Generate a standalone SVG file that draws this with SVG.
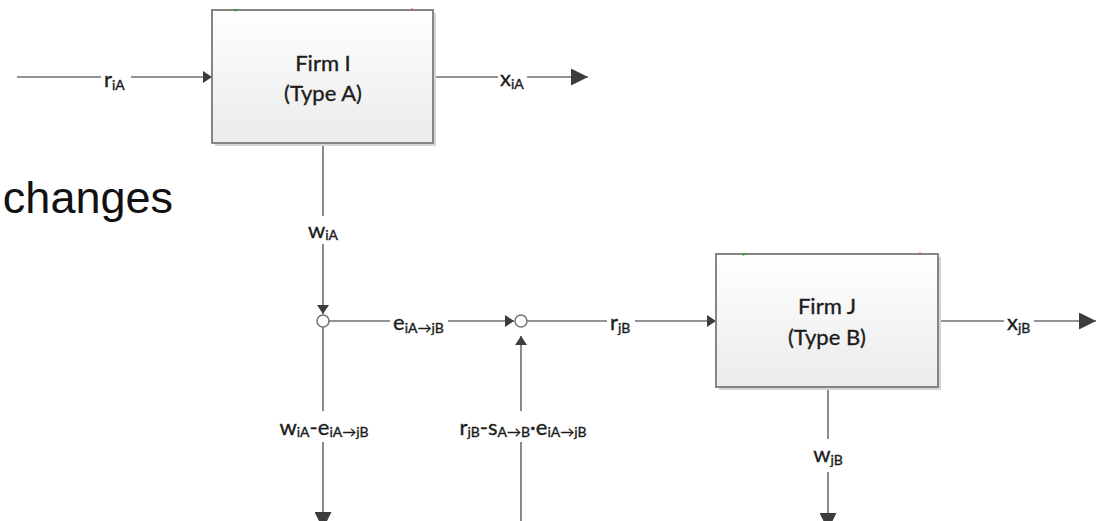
<svg xmlns="http://www.w3.org/2000/svg" width="1097" height="521" viewBox="0 0 1097 521">
  <style>
    .box { fill: url(#boxGrad); stroke: #858585; stroke-width: 2; }
    .shadow { fill: #d6d6d6; }
    .ln { fill: none; stroke: #6f6f6f; stroke-width: 1.6; }
    .jn { fill: #ffffff; stroke: #737373; stroke-width: 1.5; }
    .bg { fill: #ffffff; }
    .t { font-family: Lato, "Liberation Sans", sans-serif; fill: #1c1c1c; stroke: #1c1c1c; stroke-width: 0.35; }
    .name { font-size: 22px; text-anchor: middle; }
    .v { font-size: 22px; }
    .s { font-size: 14px; }
    .big { font-family: "Liberation Sans", Arial, sans-serif; font-size: 45px; fill: #111111; }
  </style>
  <defs>
    <linearGradient id="boxGrad" x1="0" y1="0" x2="0" y2="1">
      <stop offset="0" stop-color="#ffffff"/>
      <stop offset="1" stop-color="#ebebeb"/>
    </linearGradient>
    <marker id="aS" markerUnits="userSpaceOnUse" markerWidth="9" markerHeight="12" refX="9" refY="6" orient="auto">
      <path d="M0,0 L9,6 L0,12 z" fill="#3d3d3d"/>
    </marker>
    <marker id="aL" markerUnits="userSpaceOnUse" markerWidth="17" markerHeight="17" refX="17" refY="8.5" orient="auto">
      <path d="M0,0 L17,8.5 L0,17 z" fill="#3d3d3d"/>
    </marker>
  </defs>

  <text class="big" x="173" y="213" text-anchor="end">changes</text>

  <g id="connectors">
    <path class="ln" d="M17,77 H212" marker-end="url(#aS)"/>
    <path class="ln" d="M433,77 H588" marker-end="url(#aL)"/>
    <path class="ln" d="M323,143 V314" marker-end="url(#aS)"/>
    <path class="ln" d="M329,321 H514" marker-end="url(#aS)"/>
    <path class="ln" d="M527,321 H716" marker-end="url(#aS)"/>
    <path class="ln" d="M938,321 H1096" marker-end="url(#aL)"/>
    <path class="ln" d="M828,387 V530" marker-end="url(#aL)"/>
    <path class="ln" d="M323,327 V529" marker-end="url(#aL)"/>
    <path class="ln" d="M521,530 V336" marker-end="url(#aS)"/>

    <rect class="bg" x="101" y="72" width="30" height="10"/>
    <text class="t v" x="104" y="87">r<tspan class="s" dy="3">iA</tspan></text>

    <rect class="bg" x="498" y="72" width="29" height="10"/>
    <text class="t v" x="500" y="86">x<tspan class="s" dy="3">iA</tspan></text>

    <rect class="bg" x="312" y="216" width="22" height="28"/>
    <text class="t v" x="323" y="238" text-anchor="middle">w<tspan class="s" dy="2">iA</tspan></text>

    <rect class="bg" x="390" y="316" width="58" height="10"/>
    <text class="t v" x="393" y="330">e<tspan class="s" dy="3">iA→jB</tspan></text>

    <rect class="bg" x="607" y="316" width="28" height="10"/>
    <text class="t v" x="610" y="330">r<tspan class="s" dy="3">jB</tspan></text>

    <rect class="bg" x="1004" y="316" width="30" height="10"/>
    <text class="t v" x="1007" y="330">x<tspan class="s" dy="3">jB</tspan></text>

    <rect class="bg" x="817" y="439" width="22" height="33"/>
    <text class="t v" x="828" y="462" text-anchor="middle">w<tspan class="s" dy="3">jB</tspan></text>

    <rect class="bg" x="312" y="411" width="22" height="31"/>
    <text class="t v" x="324" y="435" text-anchor="middle">w<tspan class="s" dy="2">iA</tspan><tspan dy="-2">-e</tspan><tspan class="s" dy="2">iA→jB</tspan></text>

    <rect class="bg" x="510" y="411" width="22" height="31"/>
    <text class="t v" x="523" y="435" text-anchor="middle">r<tspan class="s" dy="2">jB</tspan><tspan dy="-2">-s</tspan><tspan class="s" dy="2">A→B</tspan><tspan dy="-2">·e</tspan><tspan class="s" dy="2">iA→jB</tspan></text>
  </g>

  <g id="junction1">
    <circle class="jn" cx="323" cy="321" r="6"/>
  </g>
  <g id="junction2">
    <circle class="jn" cx="521" cy="321" r="6"/>
  </g>

  <g id="firmI">
    <rect class="shadow" x="215" y="13" width="221" height="133"/>
    <rect class="box" x="212" y="10" width="221" height="133"/>
    <path d="M233,9 L238,9 L235.5,12 z" fill="#2aa54a"/>
    <path d="M412,8 V11" stroke="#d05060" stroke-width="1"/>
    <text class="t name" x="323" y="71">Firm I</text>
    <text class="t name" x="323" y="101">(Type A)</text>
  </g>

  <g id="firmJ">
    <rect class="shadow" x="719" y="257" width="222" height="133"/>
    <rect class="box" x="716" y="254" width="222" height="133"/>
    <path d="M741,253 L746,253 L743.5,256 z" fill="#2aa54a"/>
    <path d="M920,252 V255" stroke="#d05060" stroke-width="1"/>
    <text class="t name" x="827" y="314">Firm J</text>
    <text class="t name" x="827" y="345">(Type B)</text>
  </g>
</svg>
